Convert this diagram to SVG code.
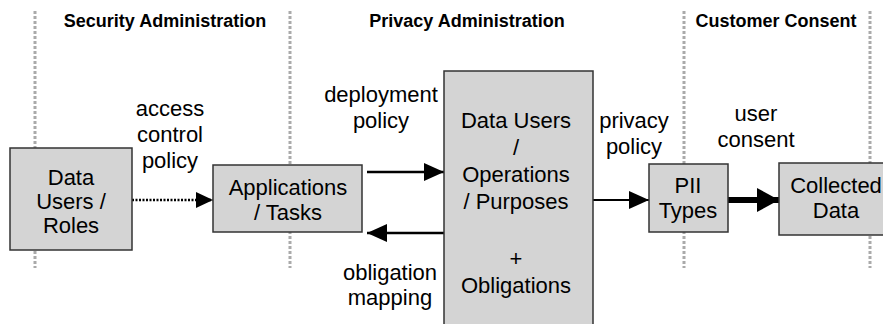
<svg xmlns="http://www.w3.org/2000/svg" width="883" height="324" viewBox="0 0 883 324">
<style>
.sep{stroke:#aaaaaa;stroke-width:3;stroke-dasharray:3 2;fill:none}
.box{fill:#d4d4d4;stroke:#333333;stroke-width:1.5}
.t{font-family:"Liberation Sans",Arial,sans-serif;font-size:22px;fill:#000;text-anchor:middle}
.h{font-family:"Liberation Sans",Arial,sans-serif;font-size:18px;font-weight:bold;fill:#000;text-anchor:middle}
.ln{stroke:#000;fill:none}
</style>
<defs>
<marker id="ah" viewBox="0 0 20 18" refX="20" refY="9" markerWidth="20" markerHeight="18" markerUnits="userSpaceOnUse" orient="auto">
<path d="M0,0 L20,9 L0,18 Z" fill="#000"/>
</marker>
<marker id="ahs" viewBox="0 0 17 16" refX="17" refY="8" markerWidth="17" markerHeight="16" markerUnits="userSpaceOnUse" orient="auto">
<path d="M0,0 L17,8 L0,16 Z" fill="#000"/>
</marker>
<marker id="ahb" viewBox="0 0 22 24" refX="22" refY="12" markerWidth="22" markerHeight="24" markerUnits="userSpaceOnUse" orient="auto">
<path d="M0,0 L22,12 L0,24 Z" fill="#000"/>
</marker>
</defs>
<g id="separators">
<line class="sep" x1="35" y1="11" x2="35" y2="268"/>
<line class="sep" x1="290" y1="11" x2="290" y2="268"/>
<line class="sep" x1="684" y1="11" x2="684" y2="268"/>
<line class="sep" x1="870" y1="11" x2="870" y2="268"/>
</g>
<g id="headers">
<text class="h" x="165" y="27">Security Administration</text>
<text class="h" x="467" y="27">Privacy Administration</text>
<text class="h" x="776" y="27">Customer Consent</text>
</g>
<g id="connectors">
<line class="ln" x1="132" y1="200" x2="213" y2="200" stroke-width="2.5" stroke-dasharray="2 1.5" marker-end="url(#ahs)"/>
<line class="ln" x1="367" y1="172" x2="444" y2="172" stroke-width="2.5" marker-end="url(#ah)"/>
<line class="ln" x1="444" y1="233" x2="367" y2="233" stroke-width="2.5" marker-end="url(#ah)"/>
<line class="ln" x1="593" y1="200" x2="649" y2="200" stroke-width="2" marker-end="url(#ah)"/>
<line class="ln" x1="728" y1="200" x2="779" y2="200" stroke-width="6" marker-end="url(#ahb)"/>
<text class="t" x="170" y="116">access</text>
<text class="t" x="170" y="142">control</text>
<text class="t" x="170" y="168">policy</text>
<text class="t" x="381" y="102">deployment</text>
<text class="t" x="381" y="128">policy</text>
<text class="t" x="390" y="280">obligation</text>
<text class="t" x="390" y="305">mapping</text>
<text class="t" x="634" y="128">privacy</text>
<text class="t" x="634" y="154">policy</text>
<text class="t" x="756" y="121">user</text>
<text class="t" x="756" y="147">consent</text>
</g>
<g id="data-users-roles">
<rect class="box" x="10" y="148" width="122" height="102"/>
<text class="t" x="71" y="185">Data</text>
<text class="t" x="71" y="209">Users /</text>
<text class="t" x="71" y="233">Roles</text>
</g>
<g id="applications-tasks">
<rect class="box" x="213" y="165" width="149" height="67"/>
<text class="t" x="288" y="195">Applications</text>
<text class="t" x="288" y="220">/ Tasks</text>
</g>
<g id="privacy-policy-box">
<rect class="box" x="444" y="71" width="149" height="265"/>
<text class="t" x="516" y="128">Data Users</text>
<text class="t" x="516" y="155">/</text>
<text class="t" x="516" y="182">Operations</text>
<text class="t" x="516" y="209">/ Purposes</text>
<text class="t" x="516" y="266">+</text>
<text class="t" x="516" y="293">Obligations</text>
</g>
<g id="pii-types">
<rect class="box" x="649" y="164" width="79" height="68"/>
<text class="t" x="688" y="193">PII</text>
<text class="t" x="688" y="218">Types</text>
</g>
<g id="collected-data">
<rect class="box" x="779" y="163" width="120" height="72"/>
<text class="t" x="836" y="193">Collected</text>
<text class="t" x="836" y="218">Data</text>
</g>
</svg>
